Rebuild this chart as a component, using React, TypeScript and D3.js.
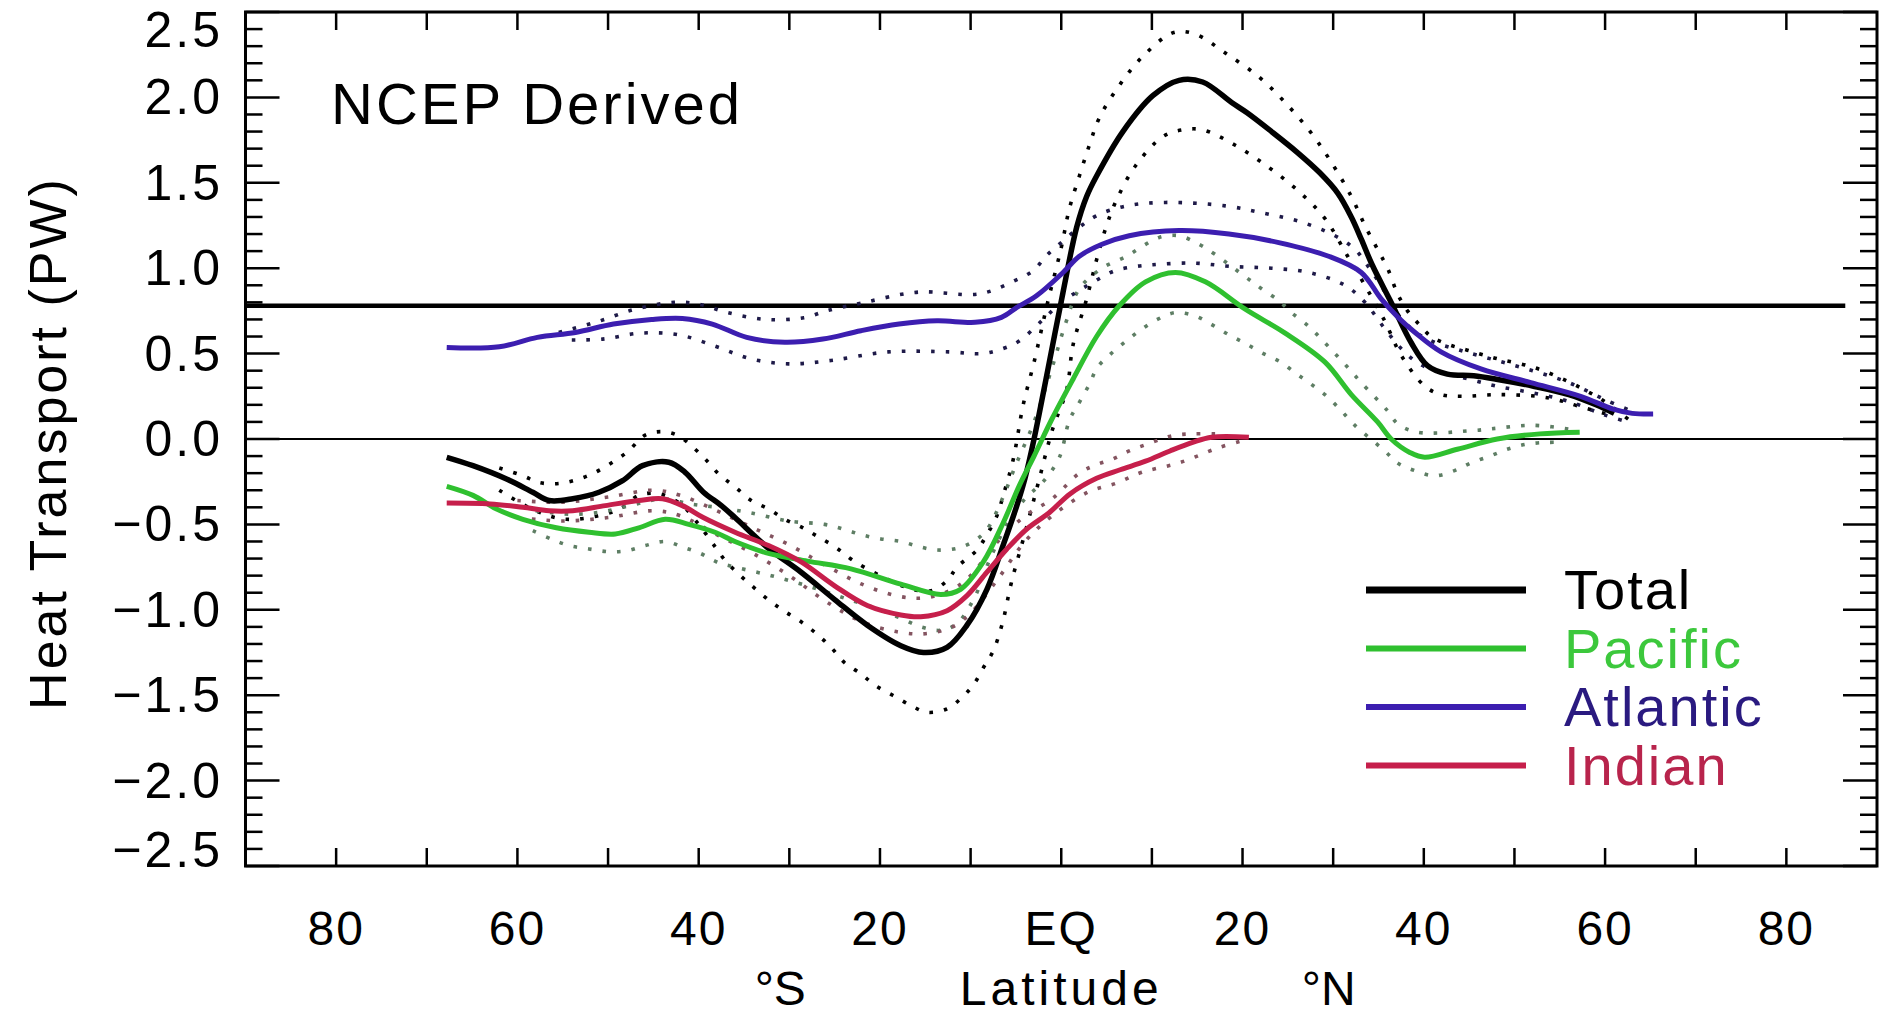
import React from 'react';
import * as d3 from 'd3';

type Pt = [number, number];

// ---------- data (latitude in degrees, negative = south; value in PW) ----------
const TOTAL: Pt[] = [[-67.8,-0.107],[-64.9,-0.156],[-61.2,-0.234],[-58.3,-0.312],[-56.5,-0.36],[-53.9,-0.35],[-51.0,-0.312],[-48.4,-0.244],[-46.2,-0.156],[-43.3,-0.136],[-41.5,-0.195],[-39.5,-0.31],[-37.5,-0.39],[-36.0,-0.46],[-32.3,-0.64],[-28.7,-0.78],[-25.0,-0.94],[-21.4,-1.09],[-17.7,-1.21],[-15.2,-1.25],[-12.6,-1.22],[-10.4,-1.09],[-8.2,-0.88],[-6.4,-0.62],[-4.9,-0.39],[-4.0,-0.23],[-3.0,0.0],[-1.5,0.40],[0.2,0.86],[1.7,1.24],[2.8,1.42],[3.9,1.54],[6.8,1.80],[10.1,2.01],[13.0,2.10],[15.6,2.09],[18.8,1.97],[20.5,1.91],[23.2,1.80],[26.0,1.68],[28.5,1.56],[30.5,1.44],[32.0,1.30],[33.1,1.17],[34.3,1.02],[36.4,0.80],[38.6,0.565],[40.4,0.43],[42.6,0.38],[45.5,0.37],[48.0,0.35],[52.0,0.31],[56.0,0.26],[59.0,0.2],[61.0,0.15]];
const TOTAL_UPPER: Pt[] = [[-62,-0.17],[-59.4,-0.215],[-57.6,-0.255],[-55.4,-0.26],[-53.2,-0.234],[-51.4,-0.195],[-49.5,-0.136],[-47.7,-0.068],[-46.0,0.02],[-44.2,0.043],[-42.4,0.023],[-40.6,-0.05],[-39.1,-0.127],[-37.8,-0.205],[-36.0,-0.28],[-34.2,-0.36],[-32.3,-0.41],[-30.5,-0.47],[-28.5,-0.52],[-26.9,-0.57],[-25.0,-0.63],[-23.0,-0.71],[-20.0,-0.80],[-17.0,-0.87],[-14.5,-0.89],[-12.6,-0.83],[-11.5,-0.75],[-9.3,-0.65],[-8.2,-0.56],[-7.1,-0.45],[-6.4,-0.33],[-5.3,-0.12],[-4.2,0.2],[-3.0,0.45],[-1.5,0.8],[0,1.12],[0.9,1.35],[2.0,1.54],[3.1,1.72],[4.2,1.88],[6.4,2.07],[9.0,2.24],[12.4,2.38],[14.8,2.37],[18.1,2.26],[21.8,2.12],[24.7,1.97],[27.6,1.79],[29.8,1.62],[32.0,1.42],[33.5,1.25],[35,1.1],[36,1.0],[37.1,0.85],[38.2,0.75],[39.5,0.67],[40.8,0.60],[42.6,0.555],[44.8,0.52],[48.1,0.47],[52.1,0.42],[55.8,0.34],[58.0,0.28],[59.8,0.225],[62.7,0.11]];
const TOTAL_LOWER: Pt[] = [[-62,-0.3],[-58,-0.42],[-54.6,-0.47],[-50.3,-0.44],[-48.4,-0.40],[-46.6,-0.33],[-44.4,-0.32],[-42,-0.38],[-40,-0.5],[-38.2,-0.63],[-37.1,-0.71],[-35.4,-0.80],[-33.9,-0.87],[-32.1,-0.95],[-30.5,-1.01],[-28.7,-1.07],[-27.0,-1.14],[-25.4,-1.22],[-23.9,-1.31],[-22.1,-1.375],[-20.6,-1.44],[-18.6,-1.50],[-16.6,-1.56],[-14.8,-1.60],[-12.6,-1.58],[-11.1,-1.52],[-9.7,-1.44],[-8.6,-1.34],[-7.5,-1.24],[-6.5,-1.08],[-5.5,-0.84],[-4.0,-0.55],[-2.5,-0.25],[-1.0,0.05],[0.6,0.29],[1.3,0.55],[2.8,0.82],[3.9,1.05],[5.0,1.25],[6.1,1.40],[8.2,1.60],[11.2,1.77],[13.4,1.81],[15.6,1.81],[19.2,1.72],[22.9,1.59],[26.2,1.45],[29.1,1.29],[31.6,1.07],[33.5,0.9],[35.7,0.69],[37.5,0.49],[40.1,0.31],[41.9,0.26],[44.1,0.25],[48.1,0.26],[52.5,0.25],[54.7,0.23],[56.9,0.195],[60.9,0.136]];

const PACIFIC: Pt[] = [[-67.8,-0.277],[-64.9,-0.33],[-62.3,-0.41],[-59.4,-0.47],[-55.7,-0.52],[-52.1,-0.546],[-49.2,-0.556],[-46.6,-0.52],[-43.7,-0.47],[-41.1,-0.50],[-38.2,-0.546],[-36.0,-0.60],[-32.3,-0.67],[-28.0,-0.715],[-23.2,-0.76],[-17.7,-0.85],[-13.3,-0.91],[-11.1,-0.88],[-8.6,-0.72],[-6.4,-0.49],[-4.6,-0.27],[-3.0,-0.1],[-1.0,0.12],[1.3,0.35],[3.9,0.60],[6.4,0.78],[9.3,0.92],[12.6,0.975],[15.9,0.92],[20.3,0.76],[24.7,0.62],[29.1,0.45],[32.0,0.26],[34.9,0.10],[36.4,0.0],[38.5,-0.08],[40.1,-0.107],[43.7,-0.06],[48.1,0.0],[52.8,0.03],[57.2,0.04]];
const PACIFIC_UPPER: Pt[] = [[-58,-0.42],[-54.3,-0.44],[-51,-0.43],[-48.4,-0.40],[-46,-0.37],[-44,-0.35],[-41,-0.38],[-38,-0.40],[-34.5,-0.43],[-30.1,-0.48],[-26.1,-0.50],[-23.9,-0.53],[-22.1,-0.56],[-19.9,-0.585],[-17.7,-0.60],[-15.7,-0.63],[-13.7,-0.65],[-11.5,-0.64],[-9.7,-0.60],[-8.2,-0.53],[-6.5,-0.35],[-5,-0.15],[-3,0.1],[-1,0.42],[0.5,0.68],[2,0.88],[4.5,1.0],[7.2,1.07],[9,1.13],[10.8,1.18],[13,1.19],[15.2,1.14],[17,1.08],[20.3,0.95],[22.1,0.88],[24,0.81],[25.4,0.74],[27.3,0.66],[28.7,0.585],[30.2,0.50],[31.6,0.42],[33.1,0.33],[36,0.165],[37.1,0.09],[39.3,0.04],[45.5,0.05],[47.5,0.06],[52.1,0.08],[57,0.05]];
const PACIFIC_LOWER: Pt[] = [[-58.3,-0.537],[-56.3,-0.585],[-54.3,-0.624],[-52.1,-0.644],[-49.9,-0.66],[-47.9,-0.654],[-45.9,-0.624],[-43.7,-0.60],[-41.7,-0.634],[-39.8,-0.67],[-38,-0.72],[-36,-0.75],[-32,-0.80],[-28,-0.86],[-24,-0.93],[-20,-1.0],[-17.7,-1.05],[-15.5,-1.10],[-13.3,-1.12],[-11.5,-1.08],[-9.5,-0.92],[-8,-0.72],[-6,-0.5],[-4,-0.35],[-2,-0.25],[-0.2,-0.107],[0.9,0.11],[2,0.215],[3.1,0.32],[4,0.42],[5.5,0.50],[7.2,0.575],[8.8,0.64],[10.6,0.70],[12.6,0.74],[14.8,0.72],[16.6,0.67],[18.5,0.61],[20.3,0.56],[22.3,0.50],[24.2,0.45],[26,0.38],[27.6,0.32],[29.3,0.25],[30.9,0.165],[32.4,0.08],[35.7,-0.07],[37.1,-0.14],[39,-0.185],[41.2,-0.215],[43.4,-0.185],[45.2,-0.14],[47.3,-0.10],[49.2,-0.06],[51.4,-0.03],[53.6,-0.02],[55.4,-0.02]];

const ATLANTIC: Pt[] = [[-67.8,0.536],[-62.0,0.54],[-57.8,0.595],[-53.6,0.624],[-49.4,0.673],[-45.2,0.70],[-41.8,0.706],[-38.5,0.673],[-34.7,0.595],[-30.5,0.566],[-26.3,0.585],[-22.1,0.634],[-17.9,0.673],[-13.7,0.692],[-9.5,0.683],[-6.6,0.712],[-4.9,0.77],[-2.7,0.84],[0.2,0.975],[2.0,1.07],[4.5,1.14],[7.5,1.19],[13.0,1.22],[18.5,1.20],[24.0,1.15],[29.5,1.07],[33.1,0.975],[35.3,0.82],[37.2,0.71],[39.0,0.625],[41.9,0.51],[46.3,0.41],[51.8,0.33],[57.3,0.25],[60.9,0.175],[63.0,0.15],[65.3,0.146]];
const ATLANTIC_UPPER: Pt[] = [[-57,0.60],[-55,0.63],[-51,0.69],[-47,0.76],[-42.7,0.80],[-40,0.79],[-36.8,0.74],[-32.6,0.70],[-28.4,0.71],[-25.9,0.75],[-21.7,0.80],[-15.8,0.86],[-9,0.85],[-5,0.93],[-3,0.99],[-1.7,1.07],[0,1.15],[2,1.24],[4,1.31],[7.2,1.365],[11.5,1.385],[18.1,1.365],[22.5,1.32],[26.5,1.27],[30.2,1.19],[32.4,1.11],[34,1.0],[35.5,0.88],[37,0.74],[39,0.63],[41,0.57],[44,0.52],[48,0.46],[52,0.40],[56,0.33],[60,0.23],[63.5,0.15]];
const ATLANTIC_LOWER: Pt[] = [[-54,0.58],[-50.6,0.585],[-46.4,0.62],[-42.2,0.61],[-38,0.54],[-34.3,0.47],[-30.1,0.44],[-25.4,0.46],[-19.1,0.51],[-12.4,0.51],[-8.7,0.50],[-6.4,0.53],[-4.6,0.575],[-2,0.70],[0,0.80],[2,0.87],[3.9,0.93],[5.9,0.985],[8.2,1.01],[10.1,1.02],[14.5,1.03],[18.8,1.01],[23.2,1.0],[27.3,0.975],[31.3,0.90],[33.5,0.80],[35.5,0.66],[37.5,0.53],[39.5,0.44],[42,0.39],[45,0.35],[48,0.31],[52,0.27],[56,0.22],[60,0.14],[62.5,0.10]];

const INDIAN: Pt[] = [[-67.8,-0.375],[-63.0,-0.38],[-59.4,-0.40],[-56.5,-0.42],[-53.9,-0.42],[-50.3,-0.39],[-46.6,-0.36],[-44.0,-0.35],[-41.8,-0.39],[-39.5,-0.46],[-36.0,-0.546],[-32.3,-0.624],[-28.7,-0.72],[-25.0,-0.86],[-21.4,-0.975],[-17.7,-1.03],[-15.5,-1.04],[-12.6,-1.005],[-10.4,-0.917],[-8.2,-0.78],[-6.0,-0.644],[-3.8,-0.527],[-1.3,-0.43],[1.0,-0.32],[3.9,-0.23],[6.5,-0.18],[9.3,-0.13],[12.0,-0.07],[14.5,-0.02],[16.6,0.01],[20.7,0.01]];
const INDIAN_UPPER: Pt[] = [[-60,-0.36],[-55,-0.37],[-50,-0.34],[-45,-0.30],[-42,-0.33],[-38,-0.42],[-34,-0.52],[-30,-0.62],[-26,-0.74],[-22,-0.85],[-18,-0.92],[-15,-0.93],[-12,-0.88],[-10,-0.80],[-7,-0.6],[-4,-0.45],[-1,-0.35],[2,-0.2],[3.9,-0.15],[5.7,-0.117],[7.5,-0.07],[10,-0.02],[12.3,0.02],[14.5,0.03],[17,0.03]];
const INDIAN_LOWER: Pt[] = [[-60,-0.46],[-55,-0.48],[-50,-0.46],[-45,-0.42],[-42,-0.45],[-38,-0.56],[-34,-0.67],[-30,-0.80],[-26,-0.95],[-22,-1.07],[-18,-1.13],[-15,-1.14],[-12,-1.10],[-10,-1.02],[-7,-0.82],[-4,-0.6],[-1,-0.45],[3,-0.31],[6,-0.26],[8.9,-0.195],[13,-0.14],[17.4,-0.05],[20,-0.01]];

const REFERENCE_LEVEL = 0.78;

const X_TICKS = [-80, -70, -60, -50, -40, -30, -20, -10, 0, 10, 20, 30, 40, 50, 60, 70, 80];
const X_LABELS = [-80, -60, -40, -20, 0, 20, 40, 60, 80];
const Y_LABELS = [2.5, 2.0, 1.5, 1.0, 0.5, 0.0, -0.5, -1.0, -1.5, -2.0, -2.5];

const SERIES_NAMES = ['Total', 'Pacific', 'Atlantic', 'Indian'];

// ---------- layout / style ----------
const W = 1887, H = 1014;
const PL = 245.5, PR = 1877, PT = 12, PB = 866;
const FONT = '"Liberation Sans", Arial, sans-serif';

const COLORS: Record<string, string> = {
  Total: '#000000',
  Pacific: '#2fc02f',
  Atlantic: '#3c1eb0',
  Indian: '#c61f4b',
};
const TEXT_COLORS: Record<string, string> = {
  Total: '#000000',
  Pacific: '#3cc83c',
  Atlantic: '#2a1a80',
  Indian: '#b8244c',
};
const BOUND_COLORS: Record<string, string> = {
  Total: '#000000',
  Pacific: '#5e7e64',
  Atlantic: '#1e1a48',
  Indian: '#845460',
};

export default function App() {
  const x = d3.scaleLinear().domain([-90, 90]).range([PL, PR]);
  const y = d3.scaleLinear().domain([-2.5, 2.5]).range([PB, PT]);
  const line = d3
    .line<Pt>()
    .x((d) => x(d[0]))
    .y((d) => y(d[1]))
    .curve(d3.curveCatmullRom.alpha(0.5));

  const series: { name: string; mid: Pt[]; up: Pt[]; lo: Pt[]; w: number }[] = [
    { name: 'Total', mid: TOTAL, up: TOTAL_UPPER, lo: TOTAL_LOWER, w: 5.5 },
    { name: 'Pacific', mid: PACIFIC, up: PACIFIC_UPPER, lo: PACIFIC_LOWER, w: 5 },
    { name: 'Atlantic', mid: ATLANTIC, up: ATLANTIC_UPPER, lo: ATLANTIC_LOWER, w: 5 },
    { name: 'Indian', mid: INDIAN, up: INDIAN_UPPER, lo: INDIAN_LOWER, w: 5 },
  ];

  const yMinor = d3.range(-25, 26).map((i) => i / 10);
  const yMajor = Y_LABELS;

  const legendY0 = 590;
  const legendDY = 58.5;

  return (
    <svg
      width={W}
      height={H}
      viewBox={`0 0 ${W} ${H}`}
      style={{ position: 'absolute', left: 0, top: 0, background: '#fff' }}
      fontFamily={FONT}
    >
      <rect x={0} y={0} width={W} height={H} fill="#fff" />

      {/* zero line */}
      <line x1={PL} x2={PR} y1={y(0)} y2={y(0)} stroke="#000" strokeWidth={2} />
      {/* heavy reference line */}
      <line x1={PL} x2={x(86.5)} y1={y(REFERENCE_LEVEL)} y2={y(REFERENCE_LEVEL)} stroke="#000" strokeWidth={4.5} />

      {/* dotted uncertainty bounds */}
      {series.map((s) => (
        <g key={s.name + '-b'} fill="none" stroke={BOUND_COLORS[s.name]} strokeWidth={3.6} strokeDasharray="3.6 11">
          <path d={line(s.up) || ''} />
          <path d={line(s.lo) || ''} />
        </g>
      ))}

      {/* solid series */}
      {series.map((s) => (
        <path
          key={s.name}
          d={line(s.mid) || ''}
          fill="none"
          stroke={COLORS[s.name]}
          strokeWidth={s.w}
          strokeLinejoin="round"
          strokeLinecap="butt"
        />
      ))}

      {/* frame */}
      <rect x={PL} y={PT} width={PR - PL} height={PB - PT} fill="none" stroke="#000" strokeWidth={3} />

      {/* x ticks */}
      {X_TICKS.map((t) => (
        <g key={'xt' + t} stroke="#000" strokeWidth={2.5}>
          <line x1={x(t)} x2={x(t)} y1={PB} y2={PB - 18} />
          <line x1={x(t)} x2={x(t)} y1={PT} y2={PT + 18} />
        </g>
      ))}
      {/* y ticks */}
      {yMinor.map((t) => {
        const major = yMajor.some((m) => Math.abs(m - t) < 1e-6);
        const len = major ? 34 : 17;
        return (
          <g key={'yt' + t} stroke="#000" strokeWidth={2.5}>
            <line x1={PL} x2={PL + len} y1={y(t)} y2={y(t)} />
            <line x1={PR} x2={PR - len} y1={y(t)} y2={y(t)} />
          </g>
        );
      })}

      {/* y tick labels */}
      {Y_LABELS.map((v) => {
        let yy = y(v);
        if (v === 2.5) yy = 30;
        if (v === -2.5) yy = 850;
        const txt = (v < 0 ? '\u2212' : '') + Math.abs(v).toFixed(1);
        return (
          <text key={'yl' + v} x={223} y={yy} textAnchor="end" dominantBaseline="central" fontSize={50} letterSpacing={3} fill="#000">
            {txt}
          </text>
        );
      })}

      {/* x tick labels */}
      {X_LABELS.map((v) => (
        <text key={'xl' + v} x={x(v)} y={945} textAnchor="middle" fontSize={48} letterSpacing={2} fill="#000">
          {v === 0 ? 'EQ' : String(Math.abs(v))}
        </text>
      ))}

      {/* axis titles */}
      <text x={x(-31)} y={1005} textAnchor="middle" fontSize={48} fill="#000">°S</text>
      <text x={x(0)} y={1005} textAnchor="middle" fontSize={48} letterSpacing={4} fill="#000">Latitude</text>
      <text x={x(29.5)} y={1005} textAnchor="middle" fontSize={48} fill="#000">°N</text>
      <text
        transform={`translate(66, 443) rotate(-90)`}
        textAnchor="middle"
        fontSize={52}
        letterSpacing={3}
        fill="#000"
      >
        Heat Transport (PW)
      </text>

      {/* panel title */}
      <text x={331} y={124} fontSize={58} letterSpacing={3} fill="#000">NCEP Derived</text>

      {/* legend */}
      {SERIES_NAMES.map((n, i) => {
        const ly = legendY0 + i * legendDY;
        return (
          <g key={'lg' + n}>
            <line x1={1366} x2={1526} y1={ly} y2={ly} stroke={COLORS[n]} strokeWidth={n === 'Total' ? 7 : 6} />
            <text x={1564} y={ly + 19} fontSize={56} letterSpacing={2} fill={TEXT_COLORS[n]}>
              {n}
            </text>
          </g>
        );
      })}
    </svg>
  );
}
